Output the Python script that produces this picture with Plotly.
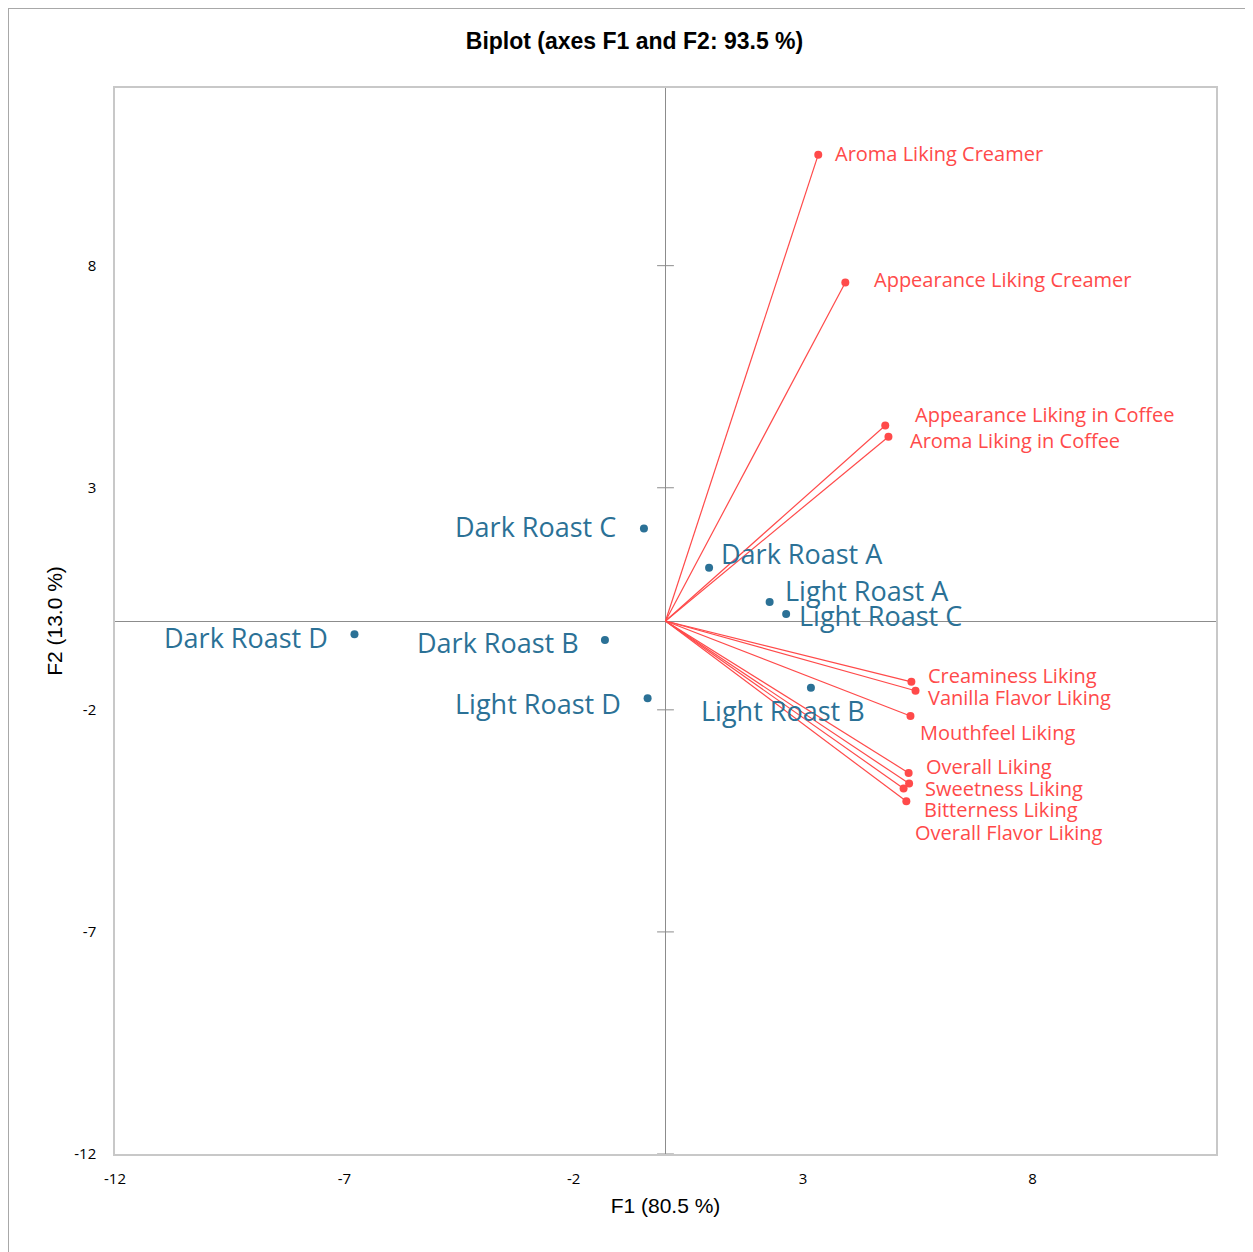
import plotly.graph_objects as go

# Observations (blue)
obs_names = ["Dark Roast A", "Dark Roast B", "Dark Roast C", "Dark Roast D",
             "Light Roast A", "Light Roast B", "Light Roast C", "Light Roast D"]
obs_f1 = [0.95, -1.32, -0.47, -6.78, 2.27, 3.17, 2.63, -0.39]
obs_f2 = [1.20, -0.43, 2.08, -0.30, 0.43, -1.50, 0.16, -1.74]

# Variables (red)
var_names = ["Aroma Liking Creamer", "Appearance Liking Creamer",
             "Appearance Liking in Coffee", "Aroma Liking in Coffee",
             "Creaminess Liking", "Vanilla Flavor Liking", "Mouthfeel Liking",
             "Overall Liking", "Sweetness Liking", "Bitterness Liking",
             "Overall Flavor Liking"]
var_f1 = [3.33, 3.92, 4.79, 4.86, 5.36, 5.45, 5.34, 5.30, 5.31, 5.19, 5.25]
var_f2 = [10.50, 7.62, 4.40, 4.15, -1.37, -1.57, -2.14, -3.42, -3.66, -3.77, -4.06]

tick_vals = [-12, -7, -2, 3, 8]
tick_text = ["-12", "-7", "-2", "3", "8"]

# label offsets (px): anchor, xshift, yshift
obs_lab = {
    "Dark Roast A": ("left", 10, 14),
    "Dark Roast B": ("right", -24, -2),
    "Dark Roast C": ("right", -26, 2),
    "Dark Roast D": ("right", -24, -3),
    "Light Roast A": ("left", 13, 11),
    "Light Roast B": ("center", -28, -23),
    "Light Roast C": ("left", 11, -2),
    "Light Roast D": ("right", -25, -5),
}
var_lab = {
    "Aroma Liking Creamer": (15, 1),
    "Appearance Liking Creamer": (27, 3),
    "Appearance Liking in Coffee": (28, 11),
    "Aroma Liking in Coffee": (20, -4),
    "Creaminess Liking": (15, 6),
    "Vanilla Flavor Liking": (10, -7),
    "Mouthfeel Liking": (8, -16),
    "Overall Liking": (15, 6),
    "Sweetness Liking": (14, -5),
    "Bitterness Liking": (18, -21),
    "Overall Flavor Liking": (7, -31),
}

BLUE = "#2b7196"
RED = "#ff4a4a"
GRID = "#8c8c8c"

W, H = 1253, 1252
ML, MR, MT, MB = 107, 45, 80, 106
PW, PH = W - ML - MR, H - MT - MB

fig = go.Figure()

# vector lines
lx, ly = [], []
for x, y in zip(var_f1, var_f2):
    lx += [0, x, None]
    ly += [0, y, None]
fig.add_trace(go.Scatter(x=lx, y=ly, mode="lines",
                         line=dict(color=RED, width=1.2), hoverinfo="skip"))
fig.add_trace(go.Scatter(x=var_f1, y=var_f2, mode="markers",
                         marker=dict(color=RED, size=8), text=var_names,
                         hoverinfo="text"))
fig.add_trace(go.Scatter(x=obs_f1, y=obs_f2, mode="markers",
                         marker=dict(color=BLUE, size=8), text=obs_names,
                         hoverinfo="text"))
# tick marks on the vertical zero line
fig.add_trace(go.Scatter(x=[0] * len(tick_vals), y=tick_vals, mode="markers",
                         marker=dict(symbol="line-ew", size=12,
                                     line=dict(color=GRID, width=1)),
                         hoverinfo="skip", cliponaxis=False))

FONT = "Open Sans"
for n, x, y in zip(obs_names, obs_f1, obs_f2):
    anc, xs, ys = obs_lab[n]
    fig.add_annotation(x=x, y=y, text=n, showarrow=False, xanchor=anc,
                       yanchor="middle", xshift=xs, yshift=ys,
                       font=dict(family=FONT, size=27, color=BLUE))
for n, x, y in zip(var_names, var_f1, var_f2):
    xs, ys = var_lab[n]
    fig.add_annotation(x=x, y=y, text=n, showarrow=False, xanchor="left",
                       yanchor="middle", xshift=xs, yshift=ys,
                       font=dict(family=FONT, size=20, color=RED))

# outer frame (top and left edges)
fx = -ML / PW
fy = (H - MB) / PH
fig.add_shape(type="line", xref="paper", yref="paper",
              x0=fx, x1=1.2, y0=fy, y1=fy,
              line=dict(color="#a8a8a8", width=2))
fig.add_shape(type="line", xref="paper", yref="paper",
              x0=fx, x1=fx, y0=fy, y1=-0.2,
              line=dict(color="#a8a8a8", width=2))

axis_common = dict(range=[-12, 12], tickvals=tick_vals, ticktext=tick_text,
                   showgrid=False,
                   zeroline=True, zerolinecolor=GRID, zerolinewidth=1.3,
                   showline=True, mirror=True, linecolor="#c8c8c8", linewidth=1.5,
                   ticks="", tickfont=dict(family=FONT, size=15, color="#000"),
                   title_font=dict(family="Liberation Sans", size=21, color="#000"))

fig.update_layout(
    width=W, height=H,
    margin=dict(l=ML, r=MR, t=MT, b=MB),
    paper_bgcolor="white", plot_bgcolor="white",
    showlegend=False,
    title=dict(text="<b>Biplot (axes F1 and F2: 93.5 %)</b>", x=0.5, xanchor="center",
               y=1 - 33 / H, yanchor="middle",
               font=dict(family="Liberation Sans", size=23, color="#000")),
)
fig.update_xaxes(**axis_common, title_text="F1 (80.5 %)", title_standoff=12,
                 ticklabelstandoff=10)
fig.update_yaxes(**axis_common, title_text="F2 (13.0 %)", title_standoff=6,
                 ticklabelstandoff=14)

fig.write_html("out.html")
